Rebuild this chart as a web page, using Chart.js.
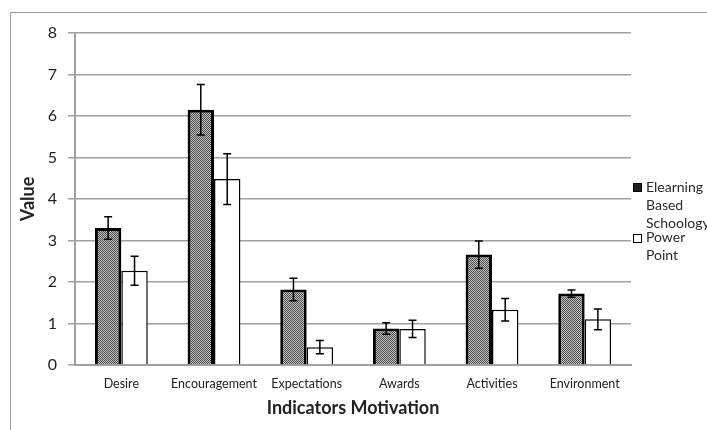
<!DOCTYPE html>
<html>
<head>
<meta charset="utf-8">
<script src="https://cdn.jsdelivr.net/npm/chart.js@4.4.1/dist/chart.umd.min.js"></script>
<style>
  html, body { margin: 0; padding: 0; background: #fff; }
  #wrap { position: relative; width: 707px; height: 430px; overflow: hidden; font-family: Lato, "Open Sans", sans-serif; }
  #frame { position: absolute; left: 10px; top: 12px; width: 720px; height: 440px; border-top: 1px solid #9a9a9a; border-left: 1px solid #9a9a9a; }
  canvas { position: absolute; left: 0; top: 0; }
  .leg { position: absolute; font-size: 14px; color: #2a2a2a; line-height: 18px; white-space: nowrap; }
  .sw { position: absolute; width: 7px; height: 7px; border: 1px solid #000; }
</style>
</head>
<body>
<div id="wrap">
  <div id="frame"></div>
  <canvas id="c" width="707" height="430"></canvas>
  <div class="sw" style="left:633px; top:183px; background:#222;"></div>
  <div class="leg" style="left:646px; top:178px;">Elearning<br>Based<br>Schoology</div>
  <div class="sw" style="left:633px; top:234px; background:#fff;"></div>
  <div class="leg" style="left:646px; top:228px;">Power<br>Point</div>
</div>
<script>
const categories = ["Desire", "Encouragement", "Expectations", "Awards", "Activities", "Environment"];
const seriesNames = ["Elearning Based Schoology", "Power Point"];
const elearning = [3.30, 6.15, 1.82, 0.88, 2.66, 1.72];
const powerPoint = [2.27, 4.48, 0.43, 0.87, 1.33, 1.10];
const elearningErr = [0.27, 0.61, 0.27, 0.14, 0.33, 0.09];
const powerPointErr = [0.35, 0.61, 0.16, 0.21, 0.27, 0.25];
const yTicks = [0, 1, 2, 3, 4, 5, 6, 7, 8];

function makePattern() {
  const p = document.createElement('canvas');
  p.width = 2; p.height = 2;
  const g = p.getContext('2d');
  g.fillStyle = '#c4c4c4'; g.fillRect(0, 0, 2, 2);
  g.fillStyle = '#4a4a4a'; g.fillRect(0, 0, 1, 1); g.fillRect(1, 1, 1, 1);
  return g.createPattern(p, 'repeat');
}
const pattern = makePattern();

const errorBars = {
  id: 'errorBars',
  afterDatasetsDraw(chart) {
    const ctx = chart.ctx;
    const y = chart.scales.y;
    const errs = [elearningErr, powerPointErr];
    chart.data.datasets.forEach((ds, di) => {
      const meta = chart.getDatasetMeta(di);
      meta.data.forEach((bar, i) => {
        const v = ds.data[i], e = errs[di][i];
        const x = bar.x;
        const yt = y.getPixelForValue(v + e);
        const yb = y.getPixelForValue(v - e);
        ctx.save();
        ctx.strokeStyle = '#000';
        ctx.lineWidth = 1.5;
        ctx.beginPath();
        ctx.moveTo(x, yt); ctx.lineTo(x, yb);
        ctx.moveTo(x - 4, yt); ctx.lineTo(x + 4, yt);
        ctx.moveTo(x - 4, yb); ctx.lineTo(x + 4, yb);
        ctx.stroke();
        ctx.restore();
      });
    });
  }
};

new Chart(document.getElementById('c'), {
  type: 'bar',
  data: {
    labels: categories,
    datasets: [
      { label: seriesNames[0], data: elearning, backgroundColor: pattern, borderColor: '#000', borderWidth: 3, borderSkipped: 'bottom' },
      { label: seriesNames[1], data: powerPoint, backgroundColor: '#fff', borderColor: '#000', borderWidth: 1.5, borderSkipped: 'bottom' }
    ]
  },
  options: {
    responsive: false,
    animation: false,
    devicePixelRatio: 1,
    layout: { padding: { left: 0, right: 76, top: 33, bottom: 0 } },
    plugins: { legend: { display: false }, tooltip: { enabled: false } },
    datasets: { bar: { categoryPercentage: 0.57, barPercentage: 1.0 } },
    scales: {
      x: {
        grid: { display: true, drawOnChartArea: false, drawTicks: false },
        border: { display: true, color: '#a0a0a0', width: 2 },
        ticks: { color: '#222', font: { family: 'Lato', size: 12.5 }, padding: 11, maxRotation: 0, autoSkip: false },
        title: { display: true, text: 'Indicators Motivation', color: '#222', font: { family: 'Lato', size: 18, weight: 'bold' }, padding: { top: 4, bottom: 11 } },
        afterFit(s) { s.height = 65; }
      },
      y: {
        min: 0, max: 8,
        afterBuildTicks(s) { s.ticks = yTicks.map(v => ({ value: v })); },
        grid: { color: '#a0a0a0', lineWidth: 1.5, tickLength: 7 },
        border: { display: true, color: '#a0a0a0', width: 2 },
        ticks: { color: '#222', font: { family: 'Lato', size: 16 }, padding: 11 },
        title: { display: true, text: 'Value', color: '#222', font: { family: 'Lato', size: 18, weight: 'bold' }, padding: { top: 17, bottom: 0 } },
        afterFit(s) { s.width = 75; }
      }
    }
  },
  plugins: [errorBars]
});
</script>
</body>
</html>
